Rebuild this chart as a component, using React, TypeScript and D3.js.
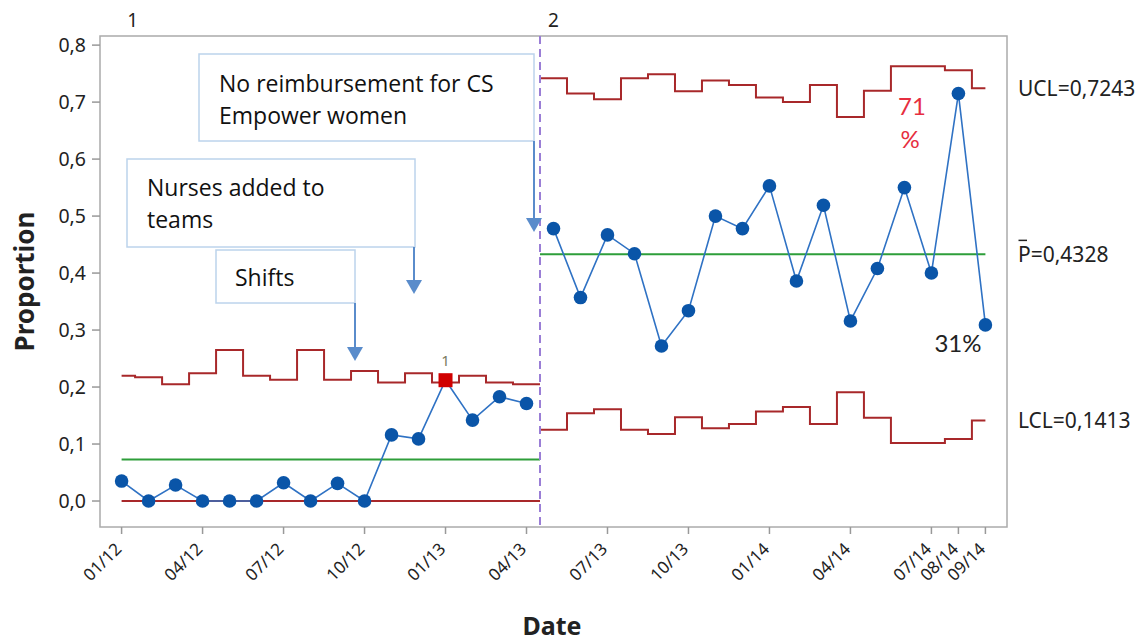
import React from "react";
import * as d3 from "d3";

// monthly proportions, 01/12 .. 09/14
const proportions = [
  0.035, 0, 0.028, 0, 0, 0, 0.032, 0, 0.031, 0, 0.116, 0.109, 0.212, 0.142, 0.183, 0.171,
  0.478, 0.357, 0.467, 0.434, 0.272, 0.334, 0.5, 0.478, 0.553, 0.386, 0.519, 0.316, 0.408, 0.55,
  0.4, 0.715, 0.309,
];
const uclValues = [
  0.22, 0.217, 0.205, 0.224, 0.265, 0.22, 0.213, 0.265, 0.213, 0.228, 0.208, 0.224, 0.208, 0.22,
  0.208, 0.205, 0.742, 0.715, 0.705, 0.742, 0.749, 0.719, 0.738, 0.73, 0.708, 0.7, 0.73, 0.674,
  0.72, 0.763, 0.763, 0.756, 0.7243,
];
const lclValues = [
  0, 0, 0, 0, 0, 0, 0, 0, 0, 0, 0, 0, 0, 0, 0, 0, 0.125, 0.154, 0.161, 0.125, 0.1175, 0.147,
  0.1275, 0.135, 0.157, 0.165, 0.135, 0.191, 0.146, 0.102, 0.102, 0.109, 0.1413,
];
const phaseStarts = [0, 16];
const phaseNames = ["1", "2"];
const centerValues = [0.073, 0.4328];
const outOfControl = [12];

const tickIndex = [0, 3, 6, 9, 12, 15, 18, 21, 24, 27, 30, 31, 32];
const tickLabels = ["01/12", "04/12", "07/12", "10/12", "01/13", "04/13", "07/13", "10/13", "01/14", "04/14", "07/14", "08/14", "09/14"];
const yTicks = [0, 0.1, 0.2, 0.3, 0.4, 0.5, 0.6, 0.7, 0.8];

const W = 1145;
const H = 644;
const frame = { left: 100, right: 1007, top: 36, bottom: 527 };

const x = d3.scaleLinear().domain([-0.8, 32.8]).range([frame.left, frame.right]);
const y = d3.scaleLinear().domain([-0.0456, 0.816]).range([frame.bottom, frame.top]);

const LIMIT = "#A8282A";
const CENTER = "#2E9E3A";
const POINT = "#0A55A8";
const LINE = "#2F72C4";
const ARROW = "#5A8CCB";
const BOX = "#BCD3EC";

const stepLine = d3
  .line<[number, number]>()
  .x((d) => x(d[0]))
  .y((d) => y(d[1]))
  .curve(d3.curveStep);

const phaseRange = (p: number) => {
  const start = phaseStarts[p];
  const end = p + 1 < phaseStarts.length ? phaseStarts[p + 1] - 1 : proportions.length - 1;
  return [start, end];
};

// limit steps: phase 1 runs to the phase break, phase 2 starts there
const limitPath = (vals: number[], p: number) => {
  const [s, e] = phaseRange(p);
  const pts: [number, number][] = [];
  if (p > 0) pts.push([s - 0.5, vals[s]]);
  for (let i = s; i <= e; i++) pts.push([i, vals[i]]);
  if (p < phaseStarts.length - 1) pts.push([e + 0.5, vals[e]]);
  return stepLine(pts) || "";
};
const phaseExtent = (p: number) => {
  const [s, e] = phaseRange(p);
  return [p > 0 ? s - 0.5 : s, p < phaseStarts.length - 1 ? e + 0.5 : e];
};

const Arrow = ({ ax, y1, y2 }: { ax: number; y1: number; y2: number }) => (
  <g>
    <line x1={ax} x2={ax} y1={y1} y2={y2 - 12} stroke={ARROW} strokeWidth={2} />
    <polygon points={`${ax - 8},${y2 - 14} ${ax + 8},${y2 - 14} ${ax},${y2}`} fill={ARROW} />
  </g>
);

const Note = ({ bx, by, bw, bh, lines, tx, ty }: any) => (
  <g>
    <rect x={bx} y={by} width={bw} height={bh} fill="#fff" stroke={BOX} strokeWidth={1.5} />
    {lines.map((t: string, i: number) => (
      <text key={i} x={tx} y={ty + i * 32} fontSize={23} fontFamily="'Open Sans', sans-serif" fill="#111">
        {t}
      </text>
    ))}
  </g>
);

export default function App() {
  const pointLine = phaseStarts.map((_, p) => {
    const [s, e] = phaseRange(p);
    return (
      d3
        .line<number>()
        .x((_d, i) => x(s + i))
        .y((d) => y(d))(proportions.slice(s, e + 1)) || ""
    );
  });
  const breakX = x(phaseStarts[1] - 0.5);
  const font = "'Noto Sans', 'Open Sans', sans-serif";

  return (
    <svg width={W} height={H} style={{ position: "absolute", left: 0, top: 0, background: "#fff" }}>
      {/* frame */}
      <rect x={frame.left} y={frame.top} width={frame.right - frame.left} height={frame.bottom - frame.top} fill="none" stroke="#ABABAB" strokeWidth={1.5} />

      {/* y axis */}
      {yTicks.map((t) => (
        <g key={t}>
          <line x1={frame.left - 8} x2={frame.left} y1={y(t)} y2={y(t)} stroke="#999" strokeWidth={1.5} />
          <text x={frame.left - 14} y={y(t)} dy="0.36em" textAnchor="end" fontSize={19.5} fontFamily={font} fill="#222">
            {d3.format(".1f")(t).replace(".", ",")}
          </text>
        </g>
      ))}
      <text transform={`translate(34,${(frame.top + frame.bottom) / 2}) rotate(-90)`} textAnchor="middle" fontSize={26} fontWeight="bold" fontFamily={font} fill="#222">
        Proportion
      </text>

      {/* x axis */}
      {tickIndex.map((t, i) => (
        <g key={t}>
          <line x1={x(t)} x2={x(t)} y1={frame.bottom} y2={frame.bottom + 7} stroke="#999" strokeWidth={1.5} />
          <text transform={`translate(${x(t) + 1},${frame.bottom + 23}) rotate(-45)`} textAnchor="end" fontSize={17} fontFamily={font} fill="#222">
            {tickLabels[i]}
          </text>
        </g>
      ))}
      <text x={552} y={635} textAnchor="middle" fontSize={25} fontWeight="bold" fontFamily={font} fill="#222">
        Date
      </text>

      {/* control limits and center lines */}
      {phaseStarts.map((_, p) => {
        const [a, b] = phaseExtent(p);
        return (
          <g key={p}>
            <path d={limitPath(uclValues, p)} fill="none" stroke={LIMIT} strokeWidth={2} />
            <path d={limitPath(lclValues, p)} fill="none" stroke={LIMIT} strokeWidth={2} />
            <line x1={x(a)} x2={x(b)} y1={y(centerValues[p])} y2={y(centerValues[p])} stroke={CENTER} strokeWidth={2} />
            <text x={p === 0 ? x(0) + 11 : x(phaseStarts[p])} y={20} dy="0.35em" textAnchor="middle" fontSize={19} fontFamily={font} fill="#222">
              {phaseNames[p]}
            </text>
          </g>
        );
      })}

      {/* phase break */}
      <line x1={breakX} x2={breakX} y1={frame.top} y2={frame.bottom} stroke="#9A7ED6" strokeWidth={2} strokeDasharray="8,5" />

      {/* data */}
      {pointLine.map((d, p) => (
        <path key={p} d={d} fill="none" stroke={LINE} strokeWidth={1.6} />
      ))}
      {proportions.map((v, i) =>
        outOfControl.includes(i) ? (
          <g key={i}>
            <rect x={x(i) - 7} y={y(v) - 7} width={14} height={14} fill="#D00000" />
            <text x={x(i)} y={y(v) - 14} textAnchor="middle" fontSize={15} fontFamily={font} fill="#7A7A60">
              1
            </text>
          </g>
        ) : (
          <circle key={i} cx={x(i)} cy={y(v)} r={6.8} fill={POINT} />
        )
      )}

      {/* right labels */}
      <text x={1018} y={y(0.7243)} dy="0.36em" fontSize={21} fontFamily={font} fill="#222">UCL=0,7243</text>
      <text x={1018} y={y(0.4328)} dy="0.36em" fontSize={21} fontFamily={font} fill="#222">P=0,4328</text>
      <line x1={1018.5} x2={1027} y1={y(0.4328) - 14} y2={y(0.4328) - 14} stroke="#222" strokeWidth={1.5} />
      <text x={1018} y={y(0.1413)} dy="0.36em" fontSize={21} fontFamily={font} fill="#222">LCL=0,1413</text>

      {/* point annotations */}
      <text x={912} y={115} textAnchor="middle" fontSize={24} fontFamily="Lato, sans-serif" fill="#E62E40">71</text>
      <text x={910} y={148} textAnchor="middle" fontSize={24} fontFamily="Lato, sans-serif" fill="#E62E40">%</text>
      <text x={958} y={352} textAnchor="middle" fontSize={24} fontFamily="Lato, sans-serif" fill="#222">31%</text>

      {/* notes */}
      <Note bx={199} by={54} bw={335} bh={87} lines={["No reimbursement for CS", "Empower women"]} tx={219} ty={92} />
      <Arrow ax={534} y1={141} y2={232} />
      <Note bx={127} by={159} bw={288} bh={88} lines={["Nurses added to", "teams"]} tx={147} ty={196} />
      <Arrow ax={414} y1={247} y2={294} />
      <Note bx={216} by={250} bw={139} bh={53} lines={["Shifts"]} tx={235} ty={286} />
      <Arrow ax={355} y1={303} y2={361} />
    </svg>
  );
}
